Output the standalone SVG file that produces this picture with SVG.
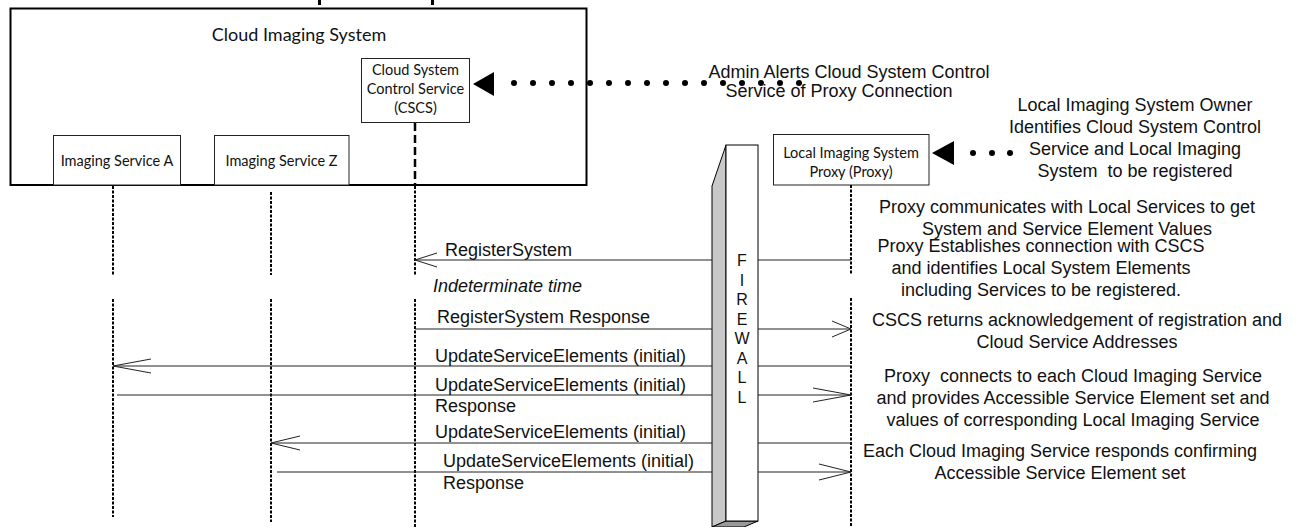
<svg xmlns="http://www.w3.org/2000/svg" width="1296" height="527" viewBox="0 0 1296 527">
<style>
.box{fill:#fff;stroke:#222;stroke-width:1}
.cal{font-family:Lato,"Open Sans","Liberation Sans",sans-serif;fill:#111}
.ar{font-family:"Liberation Sans",Arial,sans-serif;font-size:18px;fill:#111}
.life{stroke:#000;stroke-width:2;stroke-dasharray:3 1.5;fill:none}
.msg{stroke:#222;stroke-width:1;fill:none}
.dot{fill:#000}
</style>
<rect width="1296" height="527" fill="#fff"/>
<rect x="318" y="0" width="3" height="5" fill="#000"/>
<rect x="431" y="0" width="3" height="5" fill="#000"/>

<g id="cloud-system">
  <rect x="10.5" y="8.5" width="576" height="176.5" fill="#fff" stroke="#000" stroke-width="2"/>
  <text class="cal" x="299" y="41" font-size="18" text-anchor="middle">Cloud Imaging System</text>
</g>
<g id="cscs">
  <rect class="box" x="361.5" y="58.5" width="108" height="64"/>
  <text class="cal" font-size="14.5" text-anchor="middle"><tspan x="415.5" y="75">Cloud System</tspan><tspan x="415.5" y="94">Control Service</tspan><tspan x="415.5" y="113">(CSCS)</tspan></text>
</g>
<g id="imaging-a">
  <rect class="box" x="53.5" y="135.5" width="127" height="49.5"/>
  <text class="cal" x="117" y="166" font-size="14.5" text-anchor="middle">Imaging Service A</text>
</g>
<g id="imaging-z">
  <rect class="box" x="214.5" y="135.5" width="134.5" height="49.5"/>
  <text class="cal" x="281.5" y="166" font-size="14.5" text-anchor="middle">Imaging Service Z</text>
</g>
<g id="proxy">
  <rect class="box" x="773.5" y="134.5" width="155.5" height="50.5"/>
  <text class="cal" font-size="14.5" text-anchor="middle"><tspan x="851" y="158">Local Imaging System</tspan><tspan x="851" y="177">Proxy (Proxy)</tspan></text>
</g>
<g id="firewall">
  <polygon points="726,145 712,186 712,527 726,521" fill="#c8c8c8" stroke="#000" stroke-width="1"/>
  <polygon points="712,527 726,521 758,521 744,527" fill="#999" stroke="#000" stroke-width="1"/>
  <rect x="726" y="145" width="32" height="376" fill="#fff" stroke="#000" stroke-width="1"/>
  <text font-family="Liberation Sans,Arial,sans-serif" font-size="16" fill="#111" text-anchor="middle"><tspan x="742" y="266">F</tspan><tspan x="742" y="285.5">I</tspan><tspan x="742" y="305">R</tspan><tspan x="742" y="324.5">E</tspan><tspan x="742" y="344">W</tspan><tspan x="742" y="363.5">A</tspan><tspan x="742" y="383">L</tspan><tspan x="742" y="402.5">L</tspan></text>
</g>

<g id="lifelines">
  <path class="life" d="M113,186V275M113,299V517"/>
  <path class="life" d="M271,192V275M271,299V522"/>
  <path d="M415,123V186" stroke="#000" stroke-width="2.5" stroke-dasharray="8 4" fill="none"/>
  <path class="life" d="M415,186V275M415,299V527"/>
  <path class="life" d="M851,185V275M851,298V527"/>
</g>

<g id="connectors">
  <polygon points="473,84 494,72 494,96" fill="#000"/>
  <g class="dot">
    <circle cx="514" cy="83" r="3"/><circle cx="533" cy="83" r="3"/><circle cx="552" cy="83" r="3"/><circle cx="571" cy="83" r="3"/>
    <circle cx="590" cy="83" r="3"/><circle cx="609" cy="83" r="3"/><circle cx="628" cy="83" r="3"/><circle cx="647" cy="83" r="3"/>
    <circle cx="666" cy="83" r="3"/><circle cx="685" cy="83" r="3"/><circle cx="704" cy="83" r="3"/><circle cx="723" cy="83" r="3"/>
    <circle cx="742" cy="83" r="3"/><circle cx="761" cy="83" r="3"/><circle cx="780" cy="83" r="3"/><circle cx="799" cy="83" r="3"/>
  </g>
  <polygon points="932,153 954,141 954,165" fill="#000"/>
  <g class="dot">
    <circle cx="973" cy="153" r="3"/><circle cx="992" cy="153" r="3"/><circle cx="1010" cy="153" r="3"/>
  </g>

  <path class="msg" d="M712,260H415M437,253L415,260L437,267M758,260H851"/>
  <path class="msg" d="M415,329H712M758,329H851M832,321L851,329L832,337"/>
  <path class="msg" d="M712,366H113M151,359L113,366L151,373M758,366H851"/>
  <path class="msg" d="M117,395H712M758,395H851M813,388L851,395L813,402"/>
  <path class="msg" d="M712,443H271M300,436L271,443L300,450M758,443H851"/>
  <path class="msg" d="M277,472H712M758,472H851M819,464L851,472L819,480"/>
</g>

<g id="labels">
  <text class="ar" x="445" y="256">RegisterSystem</text>
  <text class="ar" x="433" y="292" font-size="16" font-style="italic">Indeterminate time</text>
  <text class="ar" x="437" y="323">RegisterSystem Response</text>
  <text class="ar" x="435" y="362">UpdateServiceElements (initial)</text>
  <text class="ar" x="435" y="391">UpdateServiceElements (initial)</text>
  <text class="ar" x="435" y="412">Response</text>
  <text class="ar" x="435" y="438">UpdateServiceElements (initial)</text>
  <text class="ar" x="443" y="467">UpdateServiceElements (initial)</text>
  <text class="ar" x="443" y="489">Response</text>
</g>

<g id="notes" class="ar" text-anchor="middle">
  <text><tspan x="849" y="78">Admin Alerts Cloud System Control</tspan><tspan x="839" y="97">Service of Proxy Connection</tspan></text>
  <text><tspan x="1135" y="111">Local Imaging System Owner</tspan><tspan x="1135" y="133">Identifies Cloud System Control</tspan><tspan x="1135" y="155">Service and Local Imaging</tspan><tspan x="1135" y="177" xml:space="preserve">System  to be registered</tspan></text>
  <text><tspan x="1067" y="213">Proxy communicates with Local Services to get</tspan><tspan x="1067" y="235">System and Service Element Values</tspan></text>
  <text><tspan x="1041" y="252">Proxy Establishes connection with CSCS</tspan><tspan x="1041" y="274">and identifies Local System Elements</tspan><tspan x="1041" y="296">including Services to be registered.</tspan></text>
  <text><tspan x="1077" y="326">CSCS returns acknowledgement of registration and</tspan><tspan x="1077" y="348">Cloud Service Addresses</tspan></text>
  <text><tspan x="1073" y="382" xml:space="preserve">Proxy  connects to each Cloud Imaging Service</tspan><tspan x="1073" y="404">and provides Accessible Service Element set and</tspan><tspan x="1073" y="426">values of corresponding Local Imaging Service</tspan></text>
  <text><tspan x="1060" y="457">Each Cloud Imaging Service responds confirming</tspan><tspan x="1060" y="479">Accessible Service Element set</tspan></text>
</g>
</svg>
